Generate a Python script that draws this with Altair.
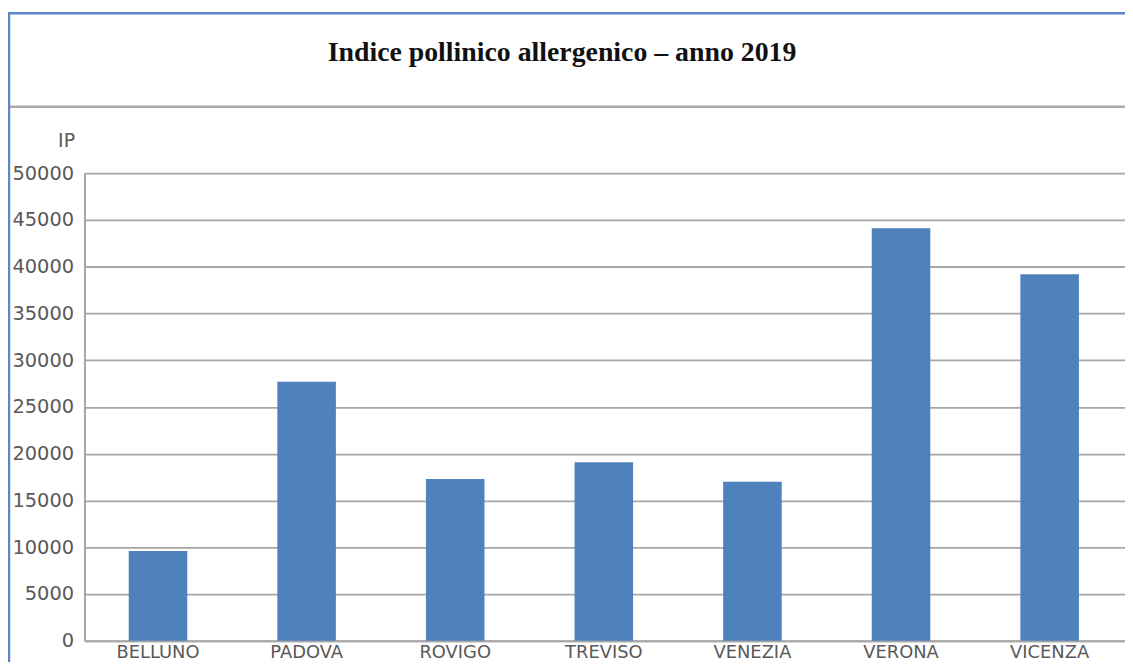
import altair as alt
import pandas as pd

provinces = ["BELLUNO", "PADOVA", "ROVIGO", "TREVISO", "VENEZIA", "VERONA", "VICENZA"]
ip_values = [9600, 27700, 17300, 19100, 17000, 44100, 39200]
y_ticks = [0, 5000, 10000, 15000, 20000, 25000, 30000, 35000, 40000, 45000, 50000]
title_text = "Indice pollinico allergenico \u2013 anno 2019"
y_title = "IP"

W, H = 1048, 471
PAD = {"left": 77, "top": 164, "right": 0, "bottom": 19}

df = pd.DataFrame({"provincia": provinces, "ip": ip_values})

bars = alt.Chart(df).mark_bar(color="#4f81bd").encode(
    x=alt.X(
        "provincia:N",
        sort=provinces,
        scale=alt.Scale(paddingInner=0.606, paddingOuter=0.304, align=0.49),
        axis=alt.Axis(
            title=None, labelAngle=0, ticks=False, labelPadding=3,
            labelFont="DejaVu Sans", labelFontSize=18, labelColor="#595959",
            domainColor="#a6a6a6", domainWidth=2, grid=False,
        ),
    ),
    y=alt.Y(
        "ip:Q",
        scale=alt.Scale(domain=[0, 50000], nice=False),
        axis=alt.Axis(
            values=y_ticks, format="d", ticks=False, labelPadding=11,
            labelFont="DejaVu Sans", labelFontSize=19.5, labelColor="#595959",
            grid=True, gridColor="#a6a6a6", gridWidth=1.8,
            domainColor="#a6a6a6", domainWidth=2,
            title=y_title, titleAngle=0, titleX=-10, titleY=-27,
            titleAlign="right", titleBaseline="alphabetic",
            titleFont="DejaVu Sans", titleFontSize=19, titleFontWeight="normal",
            titleColor="#595959", titleLimit=100,
        ),
    ),
)

one = pd.DataFrame({"k": [0]})

frame_top = alt.Chart(one).mark_rule(color="#5b87c5", strokeWidth=2.5).encode(
    x=alt.value(-77), x2=alt.value(W), y=alt.value(-161)
)
frame_left = alt.Chart(one).mark_rule(color="#5b87c5", strokeWidth=2.5).encode(
    x=alt.value(-76), y=alt.value(-162), y2=alt.value(H + 25)
)
separator = alt.Chart(one).mark_rule(color="#aaaaaa", strokeWidth=2.5).encode(
    x=alt.value(-75), x2=alt.value(W), y=alt.value(-67)
)
title = alt.Chart(one).mark_text(
    text=title_text, font="Liberation Serif", fontSize=28, fontWeight="bold",
    color="#111111", align="center", baseline="alphabetic",
).encode(x=alt.value(481), y=alt.value(-113))

chart = alt.layer(frame_top, frame_left, separator, title, bars).properties(
    width=W, height=H,
    autosize=alt.AutoSizeParams(type="none"),
    padding=PAD,
).configure_view(stroke="transparent", strokeWidth=0).configure(background="white")

chart.save("out.html", embed_options={"renderer": "svg", "actions": False})
